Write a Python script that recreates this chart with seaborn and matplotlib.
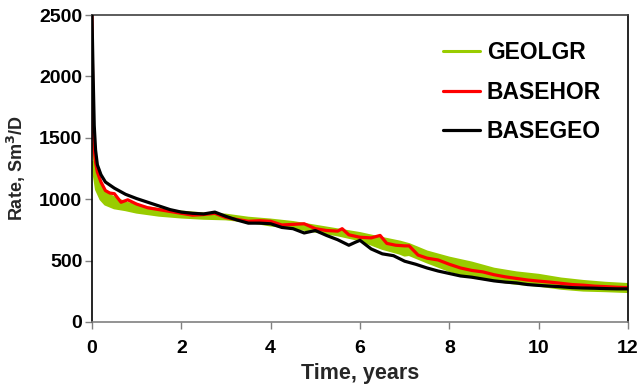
import matplotlib
matplotlib.use("Agg")
import matplotlib.pyplot as plt
import seaborn as sns
from matplotlib.font_manager import FontProperties

# ---- data ----
time_basegeo = [0, 0.02, 0.05, 0.08, 0.12, 0.2, 0.3, 0.5, 0.75, 1.0, 1.25, 1.5, 1.75, 2.0,
                2.25, 2.5, 2.75, 3.0, 3.25, 3.5, 3.75, 4.0, 4.25, 4.5, 4.75, 5.0, 5.25,
                5.5, 5.75, 5.9, 6.0, 6.25, 6.5, 6.75, 7.0, 7.25, 7.5, 7.75, 8.0, 8.25,
                8.5, 8.75, 9.0, 9.25, 9.5, 9.75, 10.0, 10.25, 10.5, 10.75, 11.0, 11.25,
                11.5, 11.75, 12.0]
rate_basegeo = [2500, 2100, 1600, 1400, 1280, 1200, 1140, 1090, 1040, 1005, 975, 945, 915, 895,
                885, 880, 895, 860, 830, 805, 805, 800, 770, 760, 725, 745, 705,
                670, 625, 650, 665, 595, 555, 540, 495, 470, 440, 415, 395, 375,
                365, 350, 335, 325, 318, 305, 298, 292, 287, 280, 277, 275,
                272, 270, 270]

time_basehor = [0, 0.02, 0.05, 0.08, 0.12, 0.2, 0.3, 0.4, 0.5, 0.65, 0.8, 1.0, 1.25, 1.5, 1.75,
                2.0, 2.25, 2.5, 2.75, 3.0, 3.25, 3.5, 3.75, 4.0, 4.25, 4.5, 4.75, 5.0,
                5.25, 5.5, 5.6, 5.75, 6.0, 6.25, 6.45, 6.6, 6.8, 7.0, 7.1, 7.3, 7.5,
                7.75, 8.0, 8.25, 8.5, 8.75, 9.0, 9.25, 9.5, 9.75, 10.0, 10.25, 10.5,
                10.75, 11.0, 11.25, 11.5, 11.75, 12.0]
rate_basehor = [2500, 1700, 1400, 1300, 1220, 1140, 1070, 1050, 1045, 975, 995, 960, 930, 915, 900,
                885, 870, 875, 885, 850, 835, 820, 825, 820, 790, 795, 800, 760,
                745, 740, 760, 710, 690, 685, 705, 640, 625, 620, 620, 545, 520,
                505, 470, 440, 420, 408, 385, 368, 355, 342, 333, 325, 315,
                305, 300, 292, 288, 283, 280]

time_geolgr = [0.03, 0.05, 0.1, 0.2, 0.3, 0.5, 0.75, 1.0, 1.5, 2.0, 2.5, 3.0, 3.5, 4.0, 4.5,
               5.0, 5.5, 6.0, 6.5, 6.9, 7.0, 7.1, 7.5, 8.0, 8.5, 9.0, 9.5, 10.0, 10.5,
               11.0, 11.5, 12.0]
geolgr_high = [1450, 1350, 1200, 1100, 1050, 1010, 970, 945, 915, 895, 880, 870, 845, 830, 810,
               780, 750, 720, 680, 650, 640, 630, 570, 520, 480, 430, 400, 380, 350,
               330, 315, 305]
geolgr_low = [1300, 1200, 1080, 1000, 960, 930, 915, 895, 870, 855, 845, 840, 820, 790, 770,
              740, 710, 670, 600, 560, 545, 550, 490, 420, 370, 340, 315, 300, 275,
              260, 255, 248]

x_ticks = [0, 2, 4, 6, 8, 10, 12]
y_ticks = [0, 500, 1000, 1500, 2000, 2500]

GREEN = "#99CC00"
RED = "#FF0000"
BLACK = "#000000"

sns.set_theme(style="white")
plt.rcParams["font.family"] = ["Liberation Sans", "DejaVu Sans"]
plt.rcParams["font.weight"] = "bold"
plt.rcParams["axes.labelweight"] = "bold"

fig = plt.figure(figsize=(6.41, 3.87), dpi=100)
ax = fig.add_axes([92 / 641, 65 / 387, (628 - 92) / 641, (322 - 15) / 387])

ax.fill_between(time_geolgr, geolgr_low, geolgr_high, color=GREEN, lw=0, zorder=1)
sns.lineplot(x=time_geolgr, y=geolgr_high, ax=ax, color=GREEN, lw=2.2, label="GEOLGR",
             sort=False, estimator=None, zorder=1)
sns.lineplot(x=time_geolgr, y=geolgr_low, ax=ax, color=GREEN, lw=2.2,
             sort=False, estimator=None, zorder=1)
sns.lineplot(x=time_basehor, y=rate_basehor, ax=ax, color=RED, lw=2.3, label="BASEHOR",
             sort=False, estimator=None, zorder=2)
sns.lineplot(x=time_basegeo, y=rate_basegeo, ax=ax, color=BLACK, lw=2.3, label="BASEGEO",
             sort=False, estimator=None, zorder=3)

ax.set_xlim(0, 12)
ax.set_ylim(0, 2500)
ax.set_xticks(x_ticks, labels=[str(v) for v in x_ticks], fontweight="bold", fontsize=14)
ax.set_yticks(y_ticks, labels=[str(v) for v in y_ticks], fontweight="bold", fontsize=14)
ax.tick_params(axis="both", length=5, width=1, color="#808080",
               direction="out", bottom=True, left=True, labelcolor="black")
ax.tick_params(axis="x", pad=8)
ax.tick_params(axis="y", pad=2)
ax.set_xlabel("Time, years", fontsize=15.5, fontweight="bold", labelpad=4)
ax.set_ylabel("Rate, Sm$^\\mathbf{3}$/D", fontsize=13, fontweight="bold")
ax.yaxis.set_label_coords(-0.12, 0.5)

ax.spines["top"].set_color("#404040")
ax.spines["bottom"].set_color("#808080")
ax.spines["left"].set_color("#000000")
ax.spines["right"].set_color("#000000")
for s in ax.spines.values():
    s.set_linewidth(1.2)
    s.set_visible(True)
ax.grid(False)

legend_font = FontProperties(family="Liberation Sans", weight="bold", size=16.5)
leg = ax.legend(loc="upper left", bbox_to_anchor=(432 / 641, 1 - 30 / 387),
                bbox_transform=fig.transFigure, frameon=False, prop=legend_font,
                handlelength=1.6, handletextpad=0.3, labelspacing=0.72, borderpad=0)
for t in leg.get_texts():
    t.set_fontproperties(legend_font)
    t.set_color("black")

fig.savefig("out.png", dpi=100)
